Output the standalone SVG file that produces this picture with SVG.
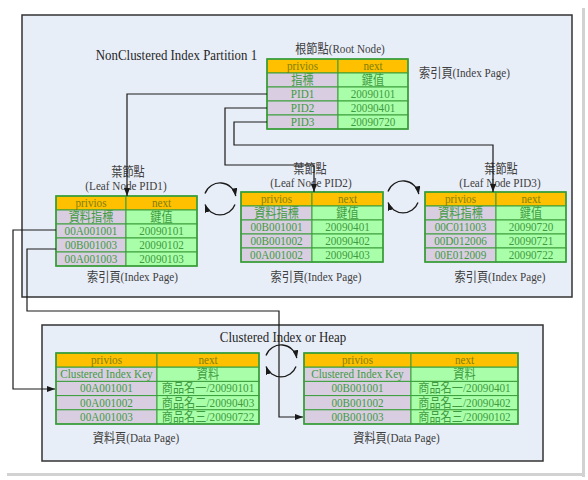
<svg xmlns="http://www.w3.org/2000/svg" width="588" height="480" viewBox="0 0 588 480">
<style>
text { font-family: "Liberation Serif", "Noto Sans CJK TC", serif; font-size: 13px; text-anchor: middle; transform-box: fill-box; transform-origin: center; transform: scaleX(0.86); }
.lbl { fill: #404040; }
.ttl { fill: #262626; font-size: 15px; }
.ct { fill: #3f9b3f; }
.ht { fill: #808000; }
.hd { fill: #FFC000; stroke: #3a9e3a; stroke-width: 1; }
.l { fill: #D9CDE2; stroke: #3a9e3a; stroke-width: 1; }
.r { fill: #A9FFA9; stroke: #3a9e3a; stroke-width: 1; }
.ol { fill: none; stroke: #3a9e3a; stroke-width: 1.6; }
.box { fill: #E8EEF8; stroke: #333333; stroke-width: 1.5; }
.cn { fill: none; stroke: #1a1a1a; stroke-width: 1.2; }
.cy { fill: none; stroke: #1a1a1a; stroke-width: 1.3; }
</style>
<defs>
<marker id="ah" viewBox="0 0 8 6" refX="8" refY="3" markerWidth="8" markerHeight="6" markerUnits="userSpaceOnUse" orient="auto">
<path d="M0,0 L8,3 L0,6 z" fill="#1a1a1a"/>
</marker>
</defs>
<g id="page">
<rect x="0" y="0" width="588" height="480" fill="#ffffff"/>
<rect x="582" y="8" width="3" height="469" fill="#d2d2d2"/>
<rect x="7" y="473" width="578" height="3" fill="#d2d2d2"/>
</g>
<g id="partition1">
<rect class="box" x="22" y="15" width="550" height="282"/>
<text class="ttl" x="176.5" y="60">NonClustered Index Partition 1</text>
</g>
<g id="heap">
<rect class="box" x="42" y="325" width="501" height="136"/>
<text class="ttl" x="283" y="342">Clustered Index or Heap</text>
</g>
<g id="root">
<text class="lbl" x="340" y="53">根節點(Root Node)</text>
<text class="lbl" x="464.5" y="77">索引頁(Index Page)</text>
<rect class="hd" x="267" y="59" width="71" height="14"/><rect class="hd" x="338" y="59" width="70" height="14"/>
<rect class="l" x="267" y="73" width="71" height="14"/><rect class="r" x="338" y="73" width="70" height="14"/>
<rect class="l" x="267" y="87" width="71" height="14"/><rect class="r" x="338" y="87" width="70" height="14"/>
<rect class="l" x="267" y="101" width="71" height="14"/><rect class="r" x="338" y="101" width="70" height="14"/>
<rect class="l" x="267" y="115" width="71" height="14"/><rect class="r" x="338" y="115" width="70" height="14"/>
<rect class="ol" x="267" y="59" width="141" height="70"/>
<text class="ht" x="302.5" y="70">privios</text><text class="ht" x="373" y="70">next</text>
<text class="ct" x="302.5" y="84">指標</text><text class="ct" x="373" y="84">鍵值</text>
<text class="ct" x="302.5" y="98">PID1</text><text class="ct" x="373" y="98">20090101</text>
<text class="ct" x="302.5" y="112">PID2</text><text class="ct" x="373" y="112">20090401</text>
<text class="ct" x="302.5" y="126">PID3</text><text class="ct" x="373" y="126">20090720</text>
</g>
<g id="leaf1">
<text class="lbl" x="128" y="176.5">葉節點</text>
<text class="lbl" x="126" y="190.5">(Leaf Node PID1)</text>
<text class="lbl" x="132.5" y="281.5">索引頁(Index Page)</text>
<rect class="hd" x="56" y="196" width="70" height="14"/><rect class="hd" x="126" y="196" width="71" height="14"/>
<rect class="l" x="56" y="210" width="70" height="14"/><rect class="r" x="126" y="210" width="71" height="14"/>
<rect class="l" x="56" y="224" width="70" height="14"/><rect class="r" x="126" y="224" width="71" height="14"/>
<rect class="l" x="56" y="238" width="70" height="14"/><rect class="r" x="126" y="238" width="71" height="14"/>
<rect class="l" x="56" y="252" width="70" height="14"/><rect class="r" x="126" y="252" width="71" height="14"/>
<rect class="ol" x="56" y="196" width="141" height="70"/>
<text class="ht" x="91" y="207">privios</text><text class="ht" x="161.5" y="207">next</text>
<text class="ct" x="91" y="221">資料指標</text><text class="ct" x="161.5" y="221">鍵值</text>
<text class="ct" x="91" y="235">00A001001</text><text class="ct" x="161.5" y="235">20090101</text>
<text class="ct" x="91" y="249">00B001003</text><text class="ct" x="161.5" y="249">20090102</text>
<text class="ct" x="91" y="263">00A001003</text><text class="ct" x="161.5" y="263">20090103</text>
</g>
<g id="leaf2">
<text class="lbl" x="310" y="173.5">葉節點</text>
<text class="lbl" x="311" y="187.5">(Leaf Node PID2)</text>
<text class="lbl" x="316" y="281.5">索引頁(Index Page)</text>
<rect class="hd" x="241" y="192" width="71" height="14"/><rect class="hd" x="312" y="192" width="71" height="14"/>
<rect class="l" x="241" y="206" width="71" height="14"/><rect class="r" x="312" y="206" width="71" height="14"/>
<rect class="l" x="241" y="220" width="71" height="14"/><rect class="r" x="312" y="220" width="71" height="14"/>
<rect class="l" x="241" y="234" width="71" height="14"/><rect class="r" x="312" y="234" width="71" height="14"/>
<rect class="l" x="241" y="248" width="71" height="14"/><rect class="r" x="312" y="248" width="71" height="14"/>
<rect class="ol" x="241" y="192" width="142" height="70"/>
<text class="ht" x="276.5" y="203">privios</text><text class="ht" x="347.5" y="203">next</text>
<text class="ct" x="276.5" y="217">資料指標</text><text class="ct" x="347.5" y="217">鍵值</text>
<text class="ct" x="276.5" y="231">00B001001</text><text class="ct" x="347.5" y="231">20090401</text>
<text class="ct" x="276.5" y="245">00B001002</text><text class="ct" x="347.5" y="245">20090402</text>
<text class="ct" x="276.5" y="259">00A001002</text><text class="ct" x="347.5" y="259">20090403</text>
</g>
<g id="leaf3">
<text class="lbl" x="501" y="173.5">葉節點</text>
<text class="lbl" x="500" y="187.5">(Leaf Node PID3)</text>
<text class="lbl" x="500" y="281.5">索引頁(Index Page)</text>
<rect class="hd" x="425" y="192" width="71" height="14"/><rect class="hd" x="496" y="192" width="70" height="14"/>
<rect class="l" x="425" y="206" width="71" height="14"/><rect class="r" x="496" y="206" width="70" height="14"/>
<rect class="l" x="425" y="220" width="71" height="14"/><rect class="r" x="496" y="220" width="70" height="14"/>
<rect class="l" x="425" y="234" width="71" height="14"/><rect class="r" x="496" y="234" width="70" height="14"/>
<rect class="l" x="425" y="248" width="71" height="14"/><rect class="r" x="496" y="248" width="70" height="14"/>
<rect class="ol" x="425" y="192" width="141" height="70"/>
<text class="ht" x="460.5" y="203">privios</text><text class="ht" x="531" y="203">next</text>
<text class="ct" x="460.5" y="217">資料指標</text><text class="ct" x="531" y="217">鍵值</text>
<text class="ct" x="460.5" y="231">00C011003</text><text class="ct" x="531" y="231">20090720</text>
<text class="ct" x="460.5" y="245">00D012006</text><text class="ct" x="531" y="245">20090721</text>
<text class="ct" x="460.5" y="259">00E012009</text><text class="ct" x="531" y="259">20090722</text>
</g>
<g id="data1">
<text class="lbl" x="136" y="442.5">資料頁(Data Page)</text>
<rect class="hd" x="56" y="353" width="101" height="14.2"/><rect class="hd" x="157" y="353" width="102" height="14.2"/>
<rect class="l" x="56" y="367.2" width="101" height="14.2"/><rect class="r" x="157" y="367.2" width="102" height="14.2"/>
<rect class="l" x="56" y="381.4" width="101" height="14.2"/><rect class="r" x="157" y="381.4" width="102" height="14.2"/>
<rect class="l" x="56" y="395.6" width="101" height="14.2"/><rect class="r" x="157" y="395.6" width="102" height="14.2"/>
<rect class="l" x="56" y="409.8" width="101" height="14.2"/><rect class="r" x="157" y="409.8" width="102" height="14.2"/>
<rect class="ol" x="56" y="353" width="203" height="71"/>
<text class="ht" x="106.5" y="364">privios</text><text class="ht" x="208" y="364">next</text>
<text class="ct" x="106.5" y="378.2">Clustered Index Key</text><text class="ct" x="208" y="378.2">資料</text>
<text class="ct" x="106.5" y="392.4">00A001001</text><text class="ct" x="208" y="392.4">商品名一/20090101</text>
<text class="ct" x="106.5" y="406.6">00A001002</text><text class="ct" x="208" y="406.6">商品名二/20090403</text>
<text class="ct" x="106.5" y="420.8">00A001003</text><text class="ct" x="208" y="420.8">商品名三/20090722</text>
</g>
<g id="data2">
<text class="lbl" x="396.5" y="442.5">資料頁(Data Page)</text>
<rect class="hd" x="304" y="353" width="107" height="14.2"/><rect class="hd" x="411" y="353" width="107" height="14.2"/>
<rect class="l" x="304" y="367.2" width="107" height="14.2"/><rect class="r" x="411" y="367.2" width="107" height="14.2"/>
<rect class="l" x="304" y="381.4" width="107" height="14.2"/><rect class="r" x="411" y="381.4" width="107" height="14.2"/>
<rect class="l" x="304" y="395.6" width="107" height="14.2"/><rect class="r" x="411" y="395.6" width="107" height="14.2"/>
<rect class="l" x="304" y="409.8" width="107" height="14.2"/><rect class="r" x="411" y="409.8" width="107" height="14.2"/>
<rect class="ol" x="304" y="353" width="214" height="71"/>
<text class="ht" x="357.5" y="364">privios</text><text class="ht" x="464.5" y="364">next</text>
<text class="ct" x="357.5" y="378.2">Clustered Index Key</text><text class="ct" x="464.5" y="378.2">資料</text>
<text class="ct" x="357.5" y="392.4">00B001001</text><text class="ct" x="464.5" y="392.4">商品名一/20090401</text>
<text class="ct" x="357.5" y="406.6">00B001002</text><text class="ct" x="464.5" y="406.6">商品名二/20090402</text>
<text class="ct" x="357.5" y="420.8">00B001003</text><text class="ct" x="464.5" y="420.8">商品名三/20090102</text>
</g>
<g id="connectors">
<path class="cn" d="M267,94 H127 V196" marker-end="url(#ah)"/>
<path class="cn" d="M267,108 H225 V165 H314 V192" marker-end="url(#ah)"/>
<path class="cn" d="M267,122 H234 V145 H493 V192" marker-end="url(#ah)"/>
<path class="cn" d="M56,230 H13 V389 H55" marker-end="url(#ah)"/>
<path class="cn" d="M56,249 H27 V311 H279 V417 H303" marker-end="url(#ah)"/>
<g id="cycle1">
<path class="cy" d="M205,193.5 A16,16 0 0 1 235.8,196.2" marker-end="url(#ah)"/>
<path class="cy" d="M235,204.5 A16,16 0 0 1 205,204.5" marker-end="url(#ah)"/>
</g>
<g id="cycle2">
<path class="cy" d="M388,191.5 A16,16 0 0 1 418.8,194.2" marker-end="url(#ah)"/>
<path class="cy" d="M418,202.5 A16,16 0 0 1 388,202.5" marker-end="url(#ah)"/>
</g>
<g id="cycle3">
<path class="cy" d="M266,355.5 A16,16 0 0 1 296.8,358.2" marker-end="url(#ah)"/>
<path class="cy" d="M296,366.5 A16,16 0 0 1 266,366.5" marker-end="url(#ah)"/>
</g>
</g>
</svg>
